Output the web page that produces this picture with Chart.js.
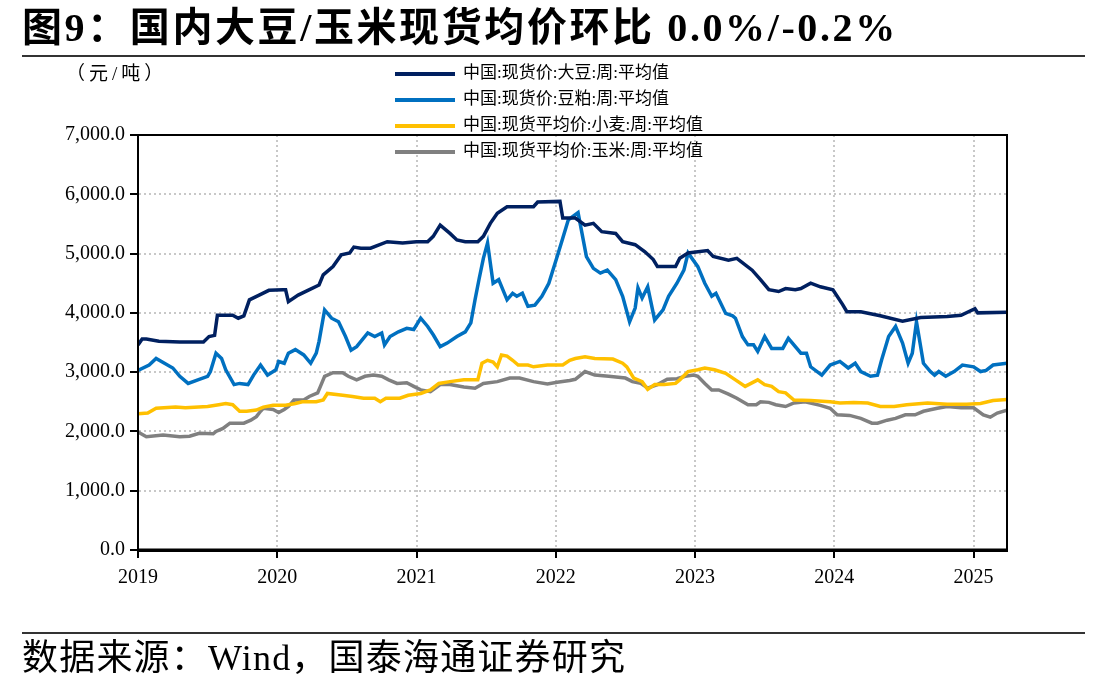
<!DOCTYPE html>
<html>
<head>
<meta charset="utf-8">
<script src="https://cdn.jsdelivr.net/npm/chart.js@4"></script>
<style>
  body { margin: 0; background: #fff; }
  #wrap { position: relative; width: 1108px; height: 692px; overflow: hidden; }
  #chart { position: absolute; left: 0; top: 0; }
  .title {
    position: absolute; left: 22px; top: 8px; white-space: nowrap;
    font-family: "Liberation Serif", "Noto Sans CJK SC", serif;
    font-weight: bold; font-size: 40px; line-height: 40px; letter-spacing: 2.6px; color: #000;
  }
  .rule { position: absolute; left: 22px; width: 1063px; height: 2px; background: #333; }
  .unit {
    position: absolute; left: 66px; top: 62px; white-space: nowrap;
    font-family: "Liberation Serif", "Noto Sans CJK SC", serif;
    font-size: 19px; line-height: 24px; letter-spacing: 4px; color: #000;
  }
  .legend { position: absolute; left: 395px; top: 60px; }
  .legend .item {
    height: 26px; line-height: 26px; white-space: nowrap;
    font-family: "Liberation Serif", "Noto Sans CJK SC", serif;
    font-size: 17px; color: #000;
  }
  .legend .sw { display: inline-block; width: 60px; height: 4px; vertical-align: middle; margin-right: 8px; }
  .source {
    position: absolute; left: 22px; top: 638px; white-space: nowrap;
    font-family: "Liberation Serif", "Noto Sans CJK SC", serif;
    font-size: 36px; line-height: 40px; letter-spacing: 1.2px; color: #000;
  }
</style>
</head>
<body>
<div id="wrap">
  <canvas id="chart" width="1108" height="692"></canvas>
  <div class="title">图9：国内大豆/玉米现货均价环比 0.0%/-0.2%</div>
  <div class="rule" style="top:55px"></div>
  <div class="unit">（元/吨）</div>
  <div class="legend" id="legend"></div>
  <div class="rule" style="top:632px"></div>
  <div class="source">数据来源：Wind，国泰海通证券研究</div>
</div>
<script>
// series names / colours
const seriesNames = [
  "中国:现货价:大豆:周:平均值",
  "中国:现货价:豆粕:周:平均值",
  "中国:现货平均价:小麦:周:平均值",
  "中国:现货平均价:玉米:周:平均值",
];
const seriesColors = ["#002060", "#0070C0", "#FFC000", "#808080"];

// axis ticks
const yearTicks = [2019, 2020, 2021, 2022, 2023, 2024, 2025];
const yTicks = [0, 1000, 2000, 3000, 4000, 5000, 6000, 7000];

// 大豆
const soyX = [2019.00, 2019.03, 2019.06, 2019.15, 2019.30, 2019.47, 2019.51, 2019.55, 2019.57, 2019.68,
  2019.72, 2019.76, 2019.80, 2019.87, 2019.94, 2020.04, 2020.06, 2020.08, 2020.15, 2020.22,
  2020.30, 2020.33, 2020.40, 2020.46, 2020.52, 2020.55, 2020.60, 2020.67, 2020.79, 2020.90,
  2021.00, 2021.08, 2021.12, 2021.17, 2021.24, 2021.29, 2021.35, 2021.44, 2021.48, 2021.53,
  2021.58, 2021.65, 2021.84, 2021.87, 2022.03, 2022.05, 2022.14, 2022.21, 2022.27, 2022.33,
  2022.43, 2022.48, 2022.57, 2022.64, 2022.70, 2022.73, 2022.86, 2022.89, 2022.95, 2023.09,
  2023.13, 2023.24, 2023.30, 2023.41, 2023.47, 2023.53, 2023.60, 2023.65, 2023.72, 2023.76,
  2023.83, 2023.90, 2023.99, 2024.06, 2024.09, 2024.19, 2024.33, 2024.49, 2024.62, 2024.81,
  2024.91, 2025.01, 2025.03, 2025.24];
const soyY = [3460, 3560, 3560, 3520, 3510, 3510, 3600, 3620, 3960, 3960,
  3910, 3950, 4220, 4300, 4380, 4390, 4390, 4190, 4300, 4380,
  4470, 4640, 4780, 4980, 5010, 5110, 5090, 5090, 5200, 5180,
  5200, 5200, 5290, 5480, 5340, 5230, 5200, 5200, 5290, 5510,
  5680, 5790, 5790, 5870, 5880, 5600, 5600, 5480, 5510, 5370,
  5340, 5200, 5150, 5030, 4900, 4780, 4780, 4920, 5010, 5050,
  4950, 4890, 4920, 4720, 4560, 4390, 4360, 4410, 4390, 4410,
  4500, 4440, 4390, 4140, 4020, 4020, 3950, 3860, 3920, 3940,
  3960, 4070, 4000, 4010];

// 豆粕
const mealX = [2019.00, 2019.08, 2019.13, 2019.19, 2019.25, 2019.30, 2019.36, 2019.43, 2019.50, 2019.52,
  2019.56, 2019.60, 2019.63, 2019.69, 2019.73, 2019.79, 2019.83, 2019.88, 2019.93, 2019.99,
  2020.01, 2020.05, 2020.08, 2020.13, 2020.19, 2020.24, 2020.28, 2020.30, 2020.34, 2020.39,
  2020.44, 2020.49, 2020.53, 2020.57, 2020.65, 2020.70, 2020.75, 2020.77, 2020.81, 2020.87,
  2020.93, 2020.98, 2021.03, 2021.08, 2021.12, 2021.17, 2021.22, 2021.29, 2021.35, 2021.39,
  2021.42, 2021.45, 2021.48, 2021.51, 2021.55, 2021.59, 2021.65, 2021.69, 2021.72, 2021.76,
  2021.80, 2021.85, 2021.90, 2021.95, 2022.01, 2022.05, 2022.09, 2022.16, 2022.22, 2022.27,
  2022.32, 2022.37, 2022.43, 2022.48, 2022.53, 2022.57, 2022.59, 2022.62, 2022.66, 2022.71,
  2022.77, 2022.81, 2022.87, 2022.92, 2022.95, 2023.02, 2023.07, 2023.12, 2023.15, 2023.22,
  2023.27, 2023.29, 2023.34, 2023.38, 2023.42, 2023.45, 2023.50, 2023.55, 2023.63, 2023.67,
  2023.76, 2023.80, 2023.83, 2023.91, 2023.97, 2024.04, 2024.10, 2024.15, 2024.19, 2024.26,
  2024.31, 2024.34, 2024.39, 2024.44, 2024.49, 2024.53, 2024.56, 2024.59, 2024.64, 2024.69,
  2024.72, 2024.75, 2024.80, 2024.86, 2024.92, 2025.00, 2025.05, 2025.09, 2025.14, 2025.24];
const mealY = [3030, 3120, 3230, 3150, 3070, 2930, 2810, 2870, 2930, 3010,
  3320, 3230, 3040, 2790, 2810, 2790, 2950, 3120, 2950, 3040,
  3180, 3150, 3320, 3380, 3290, 3150, 3320, 3520, 4050, 3910,
  3850, 3600, 3370, 3430, 3660, 3600, 3660, 3460, 3600, 3680,
  3740, 3720, 3910, 3770, 3630, 3430, 3490, 3600, 3680, 3830,
  4220, 4580, 4920, 5180, 4500, 4560, 4220, 4330, 4280, 4330,
  4110, 4130, 4280, 4500, 4950, 5260, 5570, 5690, 4950, 4750,
  4670, 4720, 4560, 4280, 3850, 4080, 4420, 4250, 4440, 3880,
  4050, 4280, 4500, 4720, 5010, 4780, 4500, 4280, 4330, 3990,
  3950, 3910, 3600, 3460, 3460, 3350, 3600, 3400, 3400, 3570,
  3320, 3320, 3090, 2950, 3120, 3180, 3070, 3150, 3010, 2930,
  2950, 3210, 3600, 3770, 3490, 3150, 3320, 3850, 3150, 3010,
  2950, 3010, 2930, 3010, 3120, 3090, 3010, 3030, 3120, 3150];

// 小麦
const wheatX = [2019.00, 2019.07, 2019.13, 2019.27, 2019.34, 2019.50, 2019.58, 2019.63, 2019.68, 2019.73,
  2019.78, 2019.85, 2019.90, 2019.97, 2020.06, 2020.13, 2020.18, 2020.28, 2020.33, 2020.36,
  2020.47, 2020.54, 2020.62, 2020.70, 2020.74, 2020.78, 2020.88, 2020.94, 2021.03, 2021.10,
  2021.16, 2021.24, 2021.34, 2021.44, 2021.47, 2021.51, 2021.55, 2021.58, 2021.61, 2021.65,
  2021.69, 2021.73, 2021.80, 2021.84, 2021.94, 2022.05, 2022.10, 2022.14, 2022.21, 2022.28,
  2022.41, 2022.48, 2022.51, 2022.56, 2022.62, 2022.66, 2022.71, 2022.78, 2022.86, 2022.89,
  2022.95, 2023.02, 2023.07, 2023.14, 2023.22, 2023.29, 2023.36, 2023.45, 2023.50, 2023.55,
  2023.60, 2023.65, 2023.71, 2023.83, 2023.97, 2024.04, 2024.14, 2024.24, 2024.33, 2024.43,
  2024.52, 2024.67, 2024.81, 2024.95, 2025.05, 2025.14, 2025.24];
const wheatY = [2300, 2310, 2390, 2410, 2400, 2420, 2450, 2470, 2450, 2340,
  2340, 2360, 2410, 2440, 2440, 2470, 2500, 2500, 2530, 2640,
  2610, 2590, 2560, 2560, 2500, 2560, 2560, 2610, 2640, 2700,
  2810, 2840, 2870, 2870, 3150, 3200, 3170, 3090, 3290, 3270,
  3200, 3120, 3120, 3090, 3120, 3120, 3200, 3230, 3260, 3230,
  3220, 3150, 3090, 2900, 2840, 2710, 2790, 2790, 2810, 2870,
  3010, 3040, 3070, 3040, 2980, 2870, 2760, 2870, 2790, 2760,
  2670, 2650, 2530, 2520, 2500, 2480, 2490, 2480, 2420, 2420,
  2450, 2480, 2460, 2460, 2470, 2520, 2540];

// 玉米
const cornX = [2019.00, 2019.06, 2019.18, 2019.30, 2019.37, 2019.44, 2019.54, 2019.56, 2019.61, 2019.66,
  2019.76, 2019.81, 2019.85, 2019.88, 2019.90, 2019.97, 2020.01, 2020.05, 2020.08, 2020.12,
  2020.19, 2020.23, 2020.29, 2020.31, 2020.34, 2020.40, 2020.47, 2020.51, 2020.57, 2020.63,
  2020.69, 2020.75, 2020.80, 2020.86, 2020.93, 2020.98, 2021.03, 2021.10, 2021.17, 2021.24,
  2021.34, 2021.42, 2021.48, 2021.58, 2021.67, 2021.74, 2021.84, 2021.94, 2022.01, 2022.10,
  2022.14, 2022.21, 2022.28, 2022.38, 2022.50, 2022.55, 2022.61, 2022.66, 2022.73, 2022.80,
  2022.87, 2022.93, 2022.99, 2023.02, 2023.07, 2023.12, 2023.17, 2023.24, 2023.30, 2023.38,
  2023.44, 2023.47, 2023.53, 2023.58, 2023.65, 2023.71, 2023.79, 2023.90, 2023.97, 2024.02,
  2024.11, 2024.19, 2024.27, 2024.31, 2024.38, 2024.44, 2024.51, 2024.58, 2024.64, 2024.74,
  2024.81, 2024.91, 2025.00, 2025.07, 2025.12, 2025.17, 2025.24];
const cornY = [1990, 1910, 1940, 1910, 1920, 1970, 1960, 2000, 2050, 2140,
  2140, 2190, 2250, 2340, 2390, 2370, 2320, 2370, 2420, 2530,
  2530, 2590, 2650, 2760, 2930, 2990, 2990, 2930, 2870, 2930,
  2950, 2930, 2870, 2810, 2820, 2760, 2700, 2670, 2790, 2790,
  2750, 2730, 2810, 2840, 2900, 2900, 2840, 2800, 2830, 2860,
  2880, 3010, 2950, 2930, 2900, 2840, 2810, 2730, 2790, 2880,
  2890, 2930, 2950, 2930, 2810, 2700, 2700, 2630, 2560, 2450,
  2450, 2500, 2490, 2450, 2420, 2480, 2500, 2440, 2390, 2280,
  2270, 2220, 2140, 2140, 2190, 2220, 2280, 2280, 2340, 2390,
  2420, 2400, 2400, 2280, 2240, 2310, 2360];

const seriesX = [soyX, mealX, wheatX, cornX];
const seriesY = [soyY, mealY, wheatY, cornY];

const serif = "'Liberation Serif', 'Times New Roman', serif";

// HTML legend
const legendEl = document.getElementById("legend");
seriesNames.forEach((name, i) => {
  const item = document.createElement("div");
  item.className = "item";
  item.innerHTML = '<span class="sw" style="background:' + seriesColors[i] + '"></span>' + name;
  legendEl.appendChild(item);
});

// frame round the plot area
const framePlugin = {
  id: "frame",
  afterDraw(chart) {
    const { ctx, chartArea: a } = chart;
    ctx.save();
    ctx.strokeStyle = "#000";
    ctx.lineWidth = 2;
    ctx.strokeRect(a.left, a.top, a.right - a.left, a.bottom - a.top);
    ctx.lineWidth = 3;
    ctx.beginPath();
    ctx.moveTo(a.left - 1, a.bottom);
    ctx.lineTo(a.right + 1, a.bottom);
    ctx.stroke();
    ctx.restore();
  },
};

const ctx = document.getElementById("chart").getContext("2d");
new Chart(ctx, {
  type: "line",
  data: {
    datasets: seriesNames.map((name, i) => ({
      label: name,
      data: seriesX[i].map((x, j) => ({ x: x, y: seriesY[i][j] })),
      borderColor: seriesColors[i],
      backgroundColor: seriesColors[i],
      borderWidth: 3.5,
      pointRadius: 0,
      tension: 0,
      fill: false,
    })),
  },
  options: {
    responsive: false,
    animation: false,
    layout: { padding: { left: 0, top: 135, right: 101, bottom: 92 } },
    plugins: {
      legend: { display: false },
      tooltip: { enabled: false },
    },
    scales: {
      x: {
        type: "linear",
        min: 2019,
        max: 2025.24,
        afterBuildTicks: (s) => {
          s.ticks = yearTicks.map((v) => ({ value: v }));
        },
        afterFit: (s) => {
          s.height = 50;
        },
        ticks: {
          color: "#000",
          font: { family: serif, size: 20 },
          padding: 8,
          maxRotation: 0,
          autoSkip: false,
          callback: (v) => String(v),
        },
        grid: {
          color: "#c8c8c8",
          lineWidth: 2,
          tickColor: "#000",
          tickLength: 8,
          tickWidth: 2,
          tickBorderDash: [],
        },
        border: { display: true, color: "#000", width: 3, dash: [2, 3] },
      },
      y: {
        min: 0,
        max: 7000,
        afterBuildTicks: (s) => {
          s.ticks = yTicks.map((v) => ({ value: v }));
        },
        afterFit: (s) => {
          s.width = 138;
        },
        ticks: {
          color: "#000",
          font: { family: serif, size: 20 },
          padding: 5,
          callback: (v) =>
            v.toLocaleString("en-US", { minimumFractionDigits: 1, maximumFractionDigits: 1 }),
        },
        grid: {
          color: "#c8c8c8",
          lineWidth: 2,
          tickColor: "#000",
          tickLength: 8,
          tickWidth: 2,
          tickBorderDash: [],
        },
        border: { display: true, color: "#000", width: 2, dash: [2, 3] },
      },
    },
  },
  plugins: [framePlugin],
});
</script>
</body>
</html>
